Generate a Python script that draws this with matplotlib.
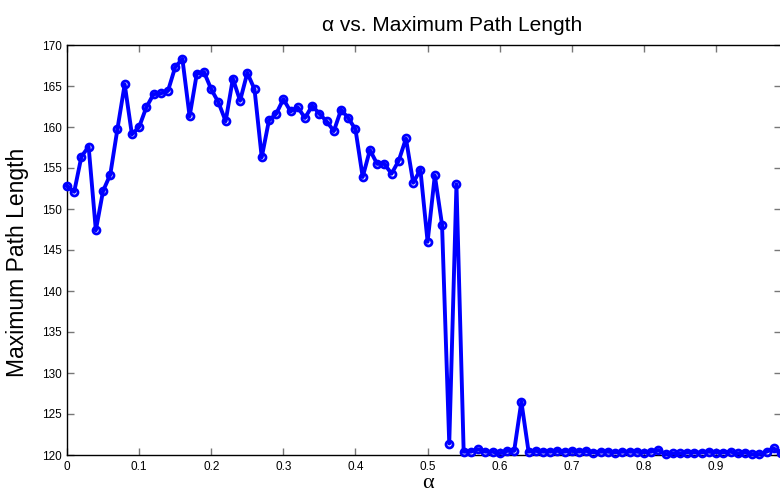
import numpy as np
import matplotlib
matplotlib.use('Agg')
import matplotlib.pyplot as plt

# alpha values 0.00 .. 0.99
alpha = np.arange(100) / 100.0

max_path = [
    152.8, 152.1, 156.4, 157.6, 147.4, 152.2, 154.2, 159.8, 165.2, 159.1,
    160.0, 162.4, 164.0, 164.1, 164.4, 167.3, 168.3, 161.3, 166.5, 166.7,
    164.6, 163.0, 160.7, 165.9, 163.2, 166.6, 164.6, 156.3, 160.8, 161.6,
    163.4, 161.9, 162.4, 161.1, 162.6, 161.6, 160.7, 159.5, 162.1, 161.1,
    159.7, 153.9, 157.2, 155.5, 155.5, 154.3, 155.9, 158.6, 153.2, 154.8,
    146.0, 154.1, 148.1, 121.4, 153.0, 120.4, 120.4, 120.7, 120.4, 120.4,
    120.2, 120.5, 120.5, 126.5, 120.4, 120.5, 120.4, 120.4, 120.5, 120.4,
    120.5, 120.4, 120.5, 120.3, 120.4, 120.4, 120.3, 120.4, 120.4, 120.4,
    120.3, 120.4, 120.6, 120.1, 120.2, 120.2, 120.3, 120.3, 120.3, 120.4,
    120.3, 120.3, 120.4, 120.2, 120.3, 120.1, 120.1, 120.4, 120.8, 120.2,
]

xticks = [0, 0.1, 0.2, 0.3, 0.4, 0.5, 0.6, 0.7, 0.8, 0.9]
xtick_labels = ['0', '0.1', '0.2', '0.3', '0.4', '0.5', '0.6', '0.7', '0.8', '0.9']
yticks = [120, 125, 130, 135, 140, 145, 150, 155, 160, 165, 170]

plt.rcParams['font.family'] = ['Liberation Sans', 'DejaVu Sans']

W, H = 780, 493
fig = plt.figure(figsize=(W / 100, H / 100), dpi=100)
ax = fig.add_axes([67 / W, 1 - 455 / H, (781 - 67) / W, 410 / H])

ax.plot(alpha, max_path, color='#0000ff', lw=2.8, marker='o', ms=5,
        mfc='none', mec='#0000ff', mew=2, clip_on=False, zorder=3)

ax.set_xlim(0, 0.99)
ax.set_ylim(120, 170)
ax.set_xticks(xticks)
ax.set_xticklabels(xtick_labels)
ax.set_yticks(yticks)
ax.tick_params(direction='in', length=5, width=1, color='#777777',
               labelsize=8.5, top=True, right=True, pad=4, labelcolor='black')
for s in ax.spines.values():
    s.set_linewidth(1)
    s.set_color('black')

ax.set_title('α vs. Maximum Path Length', fontsize=15, pad=10, x=0.54)
ax.set_ylabel('Maximum Path Length', fontsize=16.5)
ax.yaxis.set_label_coords(-38 / 714, 0.47)
ax.set_xlabel('α', fontsize=16, family=['Liberation Serif', 'DejaVu Serif'])
ax.xaxis.set_label_coords(0.505, -0.07)
ax.xaxis.label.set_va('center')

fig.savefig('out.png', dpi=100)
